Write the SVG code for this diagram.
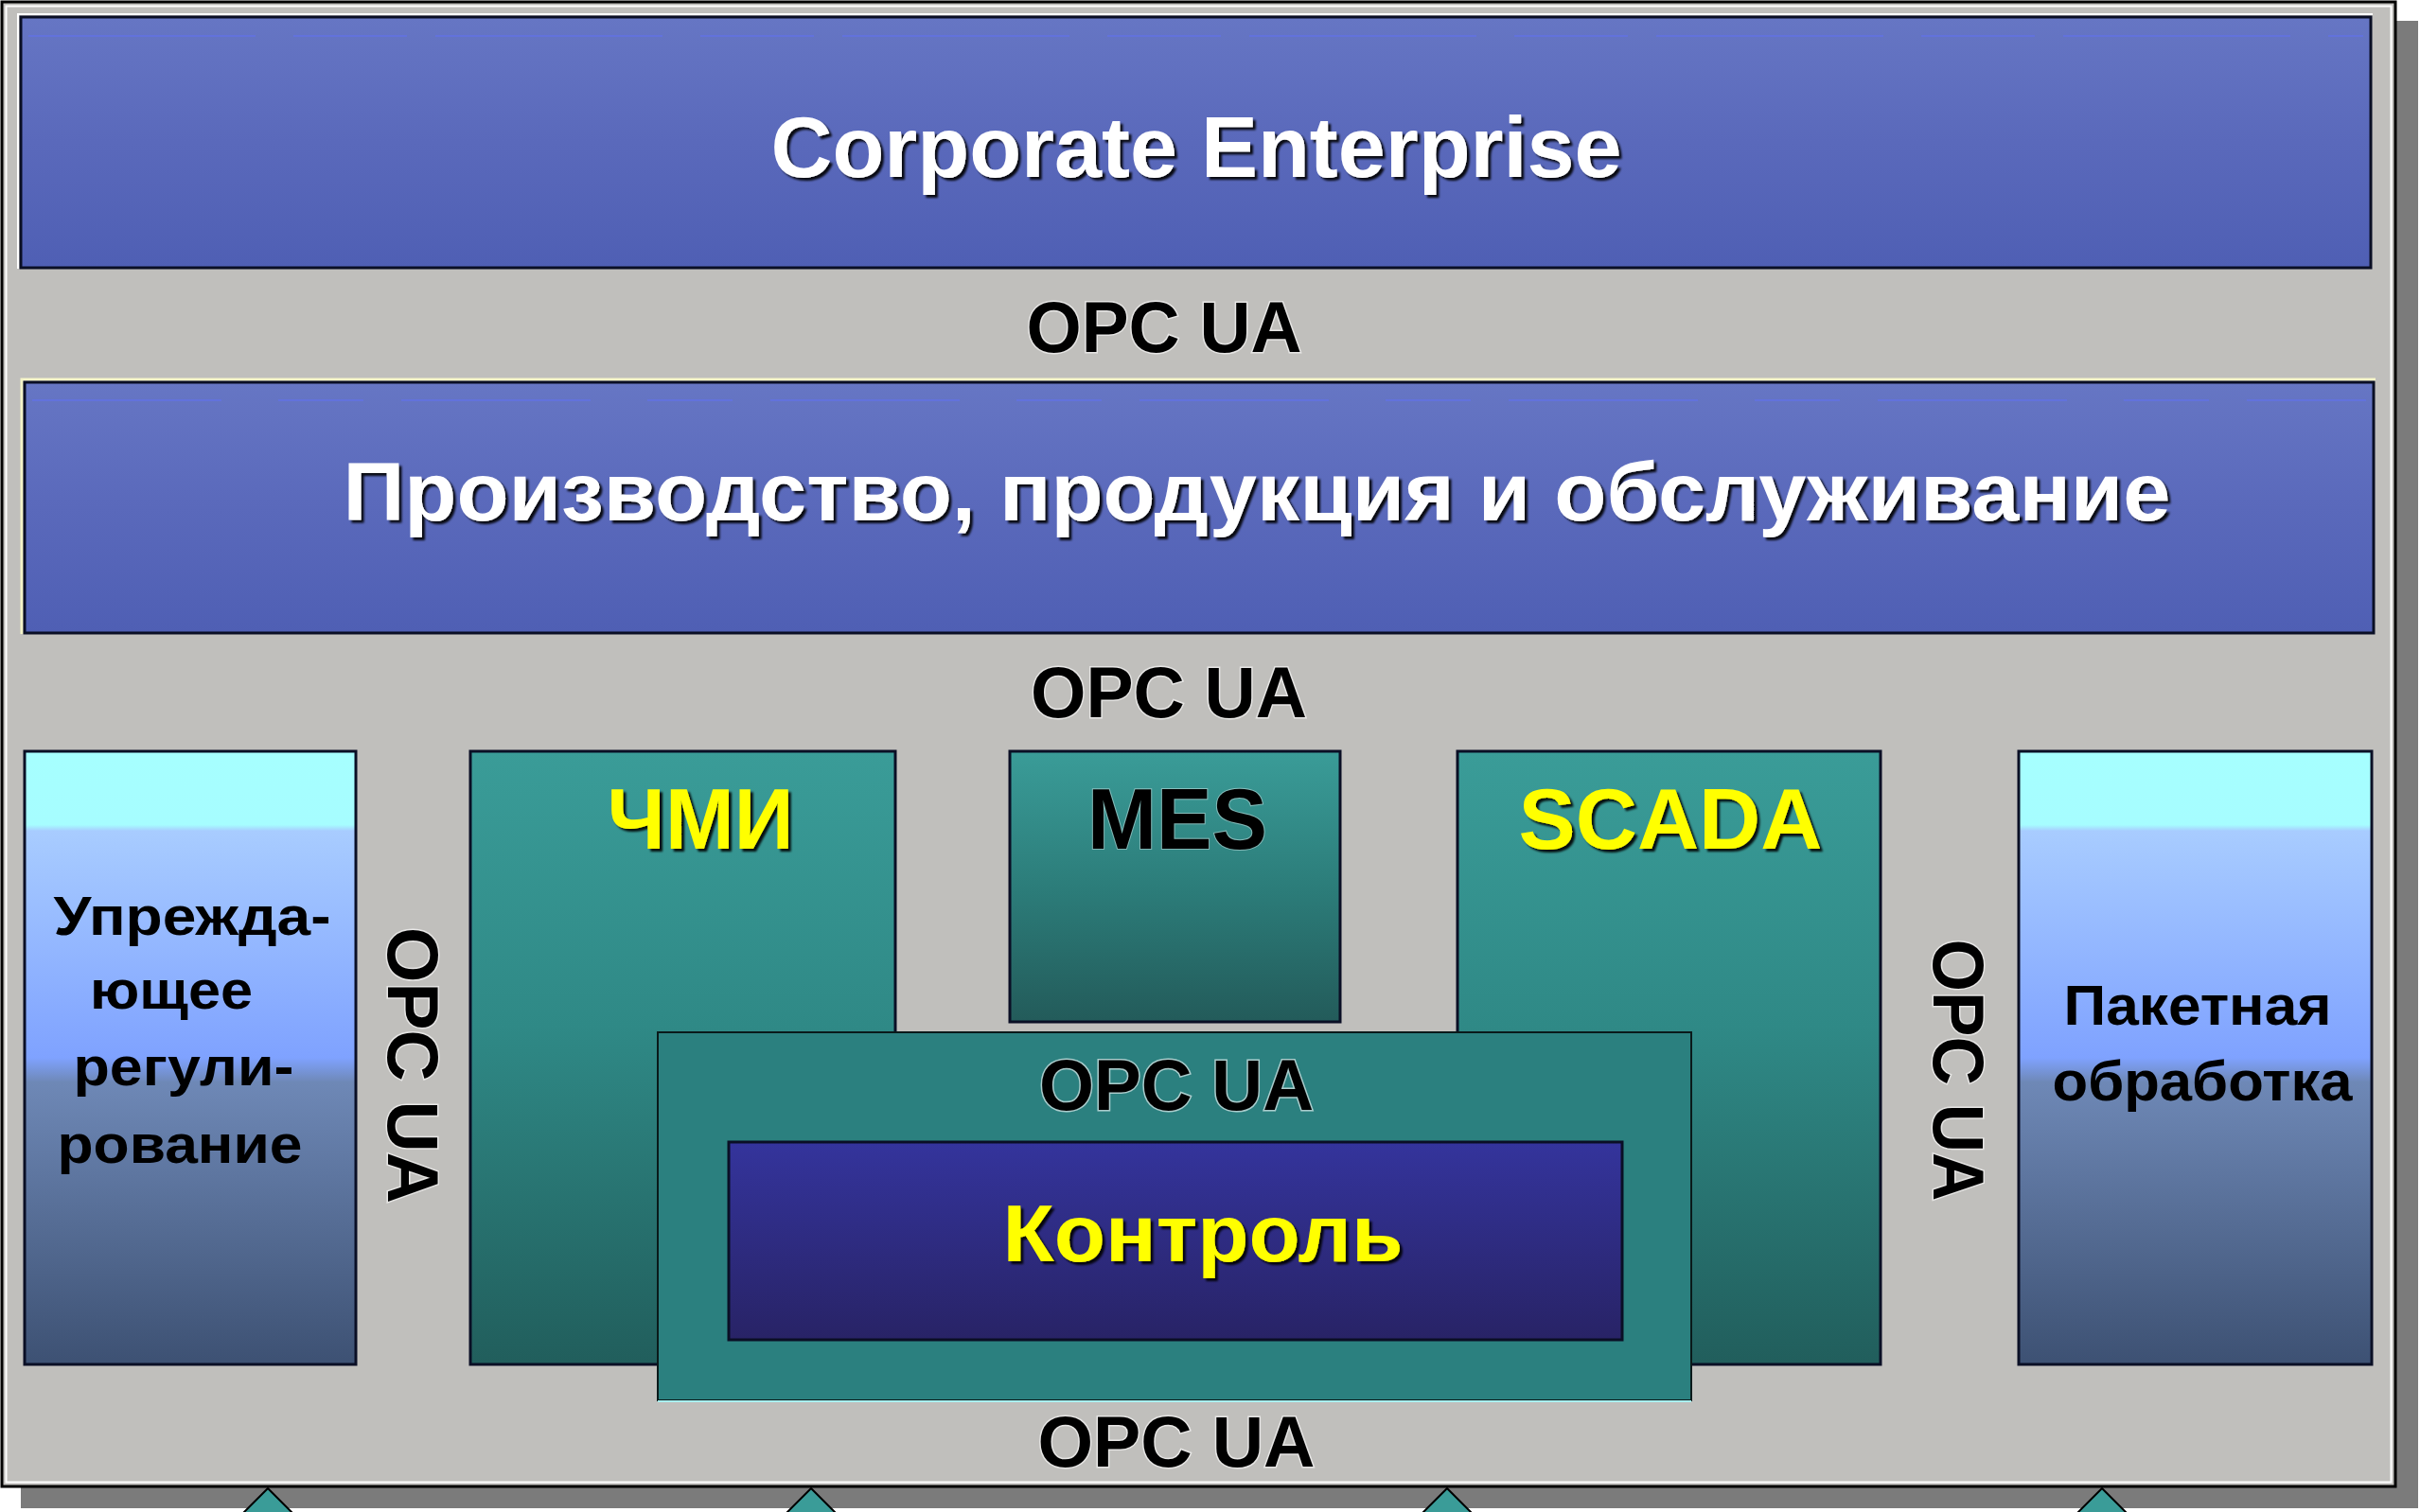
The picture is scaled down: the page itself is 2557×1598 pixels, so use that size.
<svg xmlns="http://www.w3.org/2000/svg" width="2557" height="1598" viewBox="0 0 2557 1598">
<defs>
<linearGradient id="gBlue" x1="0" y1="0" x2="0" y2="1">
<stop offset="0" stop-color="#6676c4"/>
<stop offset="0.5" stop-color="#5a69bb"/>
<stop offset="1" stop-color="#4f5fb4"/>
</linearGradient>
<linearGradient id="gSide" x1="0" y1="0" x2="0" y2="1">
<stop offset="0" stop-color="#a6ffff"/>
<stop offset="0.12" stop-color="#a6fdff"/>
<stop offset="0.13" stop-color="#a8ccff"/>
<stop offset="0.5" stop-color="#7fa2ff"/>
<stop offset="0.54" stop-color="#6e88b6"/>
<stop offset="1" stop-color="#3d5173"/>
</linearGradient>
<linearGradient id="gTeal" x1="0" y1="0" x2="0" y2="1">
<stop offset="0" stop-color="#3a9c98"/>
<stop offset="0.45" stop-color="#2f8986"/>
<stop offset="1" stop-color="#215e5c"/>
</linearGradient>
<linearGradient id="gMes" x1="0" y1="0" x2="0" y2="1">
<stop offset="0" stop-color="#3a9c98"/>
<stop offset="0.5" stop-color="#2c7d7a"/>
<stop offset="1" stop-color="#235b5a"/>
</linearGradient>
<linearGradient id="gCtl" x1="0" y1="0" x2="0" y2="1">
<stop offset="0" stop-color="#34349c"/>
<stop offset="1" stop-color="#282366"/>
</linearGradient>
<filter id="shadow" x="-5%" y="-20%" width="110%" height="140%">
<feDropShadow dx="3" dy="3" stdDeviation="0.8" flood-color="#000" flood-opacity="0.9"/>
</filter>
</defs>
<style>
text{font-family:"Liberation Sans",Arial,sans-serif;font-weight:bold;text-anchor:middle}
.opc{font-size:76px;fill:#000;stroke:#ffffff;stroke-width:3;stroke-opacity:0.6;paint-order:stroke;lengthAdjust:spacingAndGlyphs}
.white{fill:#fff;filter:url(#shadow)}
.yellow{fill:#ffff00;filter:url(#shadow)}
.dark{fill:#000}
.box{stroke:#0a0f25;stroke-width:3}
.hl{fill:none;stroke:#ffffff;stroke-width:2}
.tri{fill:#3a9c98;stroke:#000;stroke-width:2}
</style>
<rect x="0" y="0" width="2557" height="1598" fill="#ffffff"/>
<g id="frame">
<rect x="22" y="22" width="2533" height="1572" fill="#7b7b7b"/>
<rect x="2" y="2" width="2529" height="1569" fill="#c0bfbc" stroke="#000" stroke-width="3"/>
<rect x="6.5" y="6.5" width="2520" height="1560" fill="none" stroke="#ffffff" stroke-width="2"/>
</g>
<g id="corporate">
<path class="hl" d="M19 284 V15 H2507"/>
<rect class="box" x="22" y="18" width="2483" height="265" fill="url(#gBlue)"/>
<line x1="30" y1="38" x2="2497" y2="38" stroke="#6272ee" stroke-width="2" stroke-dasharray="240 40 120 30" opacity="0.6"/>
<text class="white" x="1264" y="187" font-size="90" textLength="899" lengthAdjust="spacingAndGlyphs">Corporate Enterprise</text>
</g>
<g id="production">
<path d="M23 670 V401 H2510" fill="none" stroke="#f4f4c8" stroke-width="3"/>
<rect class="box" x="26" y="404" width="2482" height="265" fill="url(#gBlue)"/>
<line x1="34" y1="423" x2="2500" y2="423" stroke="#6272ee" stroke-width="2" stroke-dasharray="200 60 90 40" opacity="0.6"/>
<text class="white" x="1328" y="550" font-size="88" textLength="1931" lengthAdjust="spacingAndGlyphs">Производство, продукция и обслуживание</text>
</g>
<g id="predictive">
<rect class="box" x="26" y="794" width="350" height="648" fill="url(#gSide)" stroke-width="2.5"/>
<text class="dark" x="203" y="988" font-size="57" textLength="293" lengthAdjust="spacingAndGlyphs">Упрежда-</text>
<text class="dark" x="181" y="1066" font-size="57" textLength="172" lengthAdjust="spacingAndGlyphs">ющее</text>
<text class="dark" x="194" y="1147" font-size="57" textLength="233" lengthAdjust="spacingAndGlyphs">регули-</text>
<text class="dark" x="190" y="1229" font-size="57" textLength="259" lengthAdjust="spacingAndGlyphs">рование</text>
</g>
<g id="hmi">
<rect class="box" x="497" y="794" width="449" height="648" fill="url(#gTeal)" stroke-width="2"/>
<text class="yellow" x="740" y="897" font-size="90" textLength="197" lengthAdjust="spacingAndGlyphs">ЧМИ</text>
</g>
<g id="mes">
<rect class="box" x="1067" y="794" width="349" height="286" fill="url(#gMes)" stroke-width="2.5"/>
<text class="dark" x="1244" y="897" font-size="90" textLength="190" lengthAdjust="spacingAndGlyphs" stroke="#ffffff" stroke-width="2" stroke-opacity="0.4" paint-order="stroke">MES</text>
</g>
<g id="scada">
<rect class="box" x="1540" y="794" width="447" height="648" fill="url(#gTeal)" stroke-width="2"/>
<text class="yellow" x="1765" y="897" font-size="90" textLength="321" lengthAdjust="spacingAndGlyphs">SCADA</text>
</g>
<g id="batch">
<rect class="box" x="2133" y="794" width="373" height="648" fill="url(#gSide)" stroke-width="2.5"/>
<text class="dark" x="2322" y="1083" font-size="60" textLength="283" lengthAdjust="spacingAndGlyphs">Пакетная</text>
<text class="dark" x="2327" y="1163" font-size="60" textLength="317" lengthAdjust="spacingAndGlyphs">обработка</text>
</g>
<g id="control-layer">
<rect x="695" y="1091" width="1092" height="389" fill="#2b807f" stroke="#0a1a1a" stroke-width="2"/>
<line x1="695" y1="1481" x2="1787" y2="1481" stroke="#a8f0f0" stroke-width="2"/>
<text class="opc" x="1243" y="1173" textLength="290" lengthAdjust="spacingAndGlyphs">OPC UA</text>
</g>
<g id="control">
<rect class="box" x="770" y="1207" width="944" height="209" fill="url(#gCtl)" stroke-width="3"/>
<text class="yellow" x="1271" y="1333" font-size="86" textLength="423" lengthAdjust="spacingAndGlyphs">Контроль</text>
</g>
<g id="connectors">
<text class="opc" x="1230" y="372" textLength="291" lengthAdjust="spacingAndGlyphs">OPC UA</text>
<text class="opc" x="1235" y="758" textLength="292" lengthAdjust="spacingAndGlyphs">OPC UA</text>
<text class="opc" x="1243" y="1550" textLength="293" lengthAdjust="spacingAndGlyphs">OPC UA</text>
<text class="opc" transform="translate(410,1126) rotate(90)" x="0" y="0" textLength="292" lengthAdjust="spacingAndGlyphs">OPC UA</text>
<text class="opc" transform="translate(2043,1131) rotate(90)" x="0" y="0" textLength="277" lengthAdjust="spacingAndGlyphs">OPC UA</text>
</g>
<g id="pointers">
<polygon class="tri" points="283,1573 253,1603 313,1603"/>
<polygon class="tri" points="857,1573 827,1603 887,1603"/>
<polygon class="tri" points="1529,1573 1499,1603 1559,1603"/>
<polygon class="tri" points="2221,1573 2191,1603 2251,1603"/>
</g>
</svg>
